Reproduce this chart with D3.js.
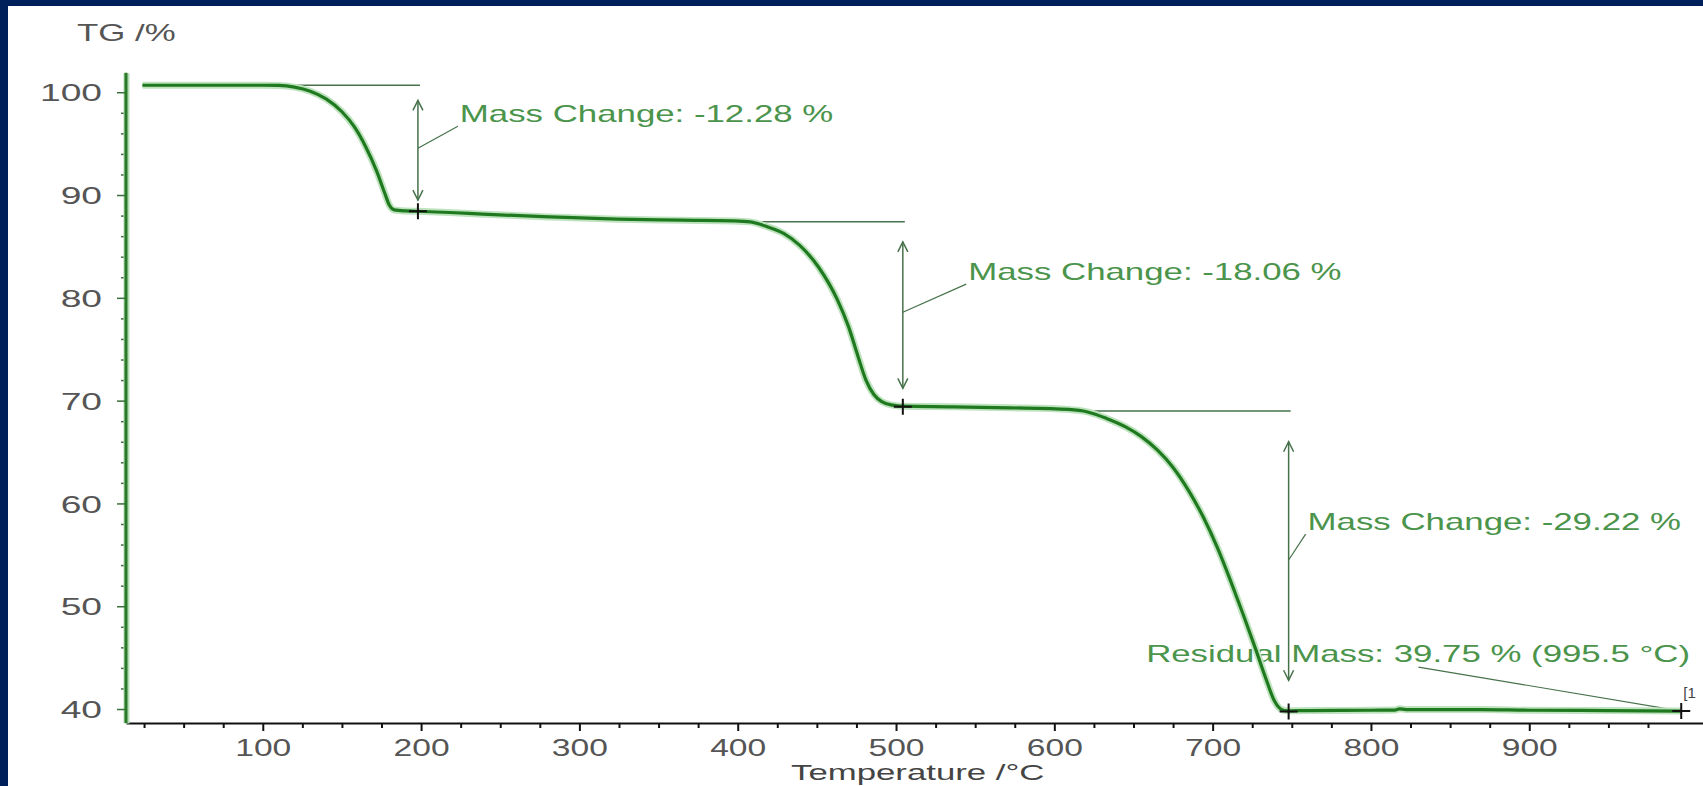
<!DOCTYPE html>
<html>
<head>
<meta charset="utf-8">
<title>TG curve</title>
<script src="https://cdn.jsdelivr.net/npm/d3@7"></script>
<style>
    html, body { margin: 0; padding: 0; background: #fff; }
    svg { display: block; }
    text { font-family: "Liberation Sans", Arial, sans-serif; }
</style>
</head>
<body>
<svg id="chart"></svg>
<script>
// TG curve: temperature in °C, mass in %
var temperature = [24, 60, 100, 110, 120, 130, 140, 150, 158, 165, 172, 177, 180, 183, 190, 197, 218,
    239, 281, 324, 365, 397, 408, 419, 429, 439, 451, 463, 470, 476, 481, 486, 491, 498, 504, 536, 572,
    609, 621, 633, 645, 655, 665, 675, 685, 694, 703, 712, 720, 727, 734, 739, 743, 747, 760, 800, 815, 818, 822,
    850, 870, 900, 950, 996];
var mass = [100.68, 100.68, 100.68, 100.66, 100.5, 100.1, 99.35, 98.1, 96.6, 94.7, 92.3, 90.2, 89.0, 88.55, 88.45, 88.42, 88.3,
    88.14, 87.87, 87.65, 87.55, 87.48, 87.39, 86.9, 86.26, 85.12, 83.0, 79.8, 77.2, 74.3, 72.0, 70.6, 69.9, 69.56, 69.46, 69.4, 69.3,
    69.14, 68.9, 68.27, 67.45, 66.5, 65.2, 63.5, 61.2, 58.7, 55.7, 52.2, 48.9, 45.9, 42.8, 40.8, 40.0, 39.82, 39.85, 39.88, 39.9, 40.02, 39.95,
    39.95, 39.95, 39.88, 39.85, 39.8];

var xTicks = [100, 200, 300, 400, 500, 600, 700, 800, 900];
var yTicks = [40, 50, 60, 70, 80, 90, 100];

// the three mass change steps
var stepLabels = ["Mass Change: -12.28 %", "Mass Change: -18.06 %", "Mass Change: -29.22 %"];
var stepTemp = [198, 504.3, 748];
var stepLineFrom = [24, 360, 615];
var stepTop = [100.68, 87.39, 68.98];
var stepBottom = [88.42, 69.4, 39.76];
var arrowTop = [99.2, 85.45, 66.0];
var arrowBottom = [89.5, 71.2, 42.8];
var leaderFrom = [94.55, 78.6, 54.5];
var labelTemp = [224.5, 545.6, 760];
var labelMass = [97.08, 81.72, 57.4];

var residualLabel = "Residual Mass: 39.75 % (995.5 °C)";
var residualTemp = 658, residualMass = 44.6;
var residualLeader = [[830, 44.08], [996, 39.8]];
var endPoint = [996, 39.8];

var W = 1703, H = 786;

var svg = d3.select("#chart").attr("width", W).attr("height", H);
svg.append("rect").attr("width", W).attr("height", H).attr("fill", "#fff");
svg.append("rect").attr("width", W).attr("height", 6).attr("fill", "#00205b");
svg.append("rect").attr("width", 8).attr("height", H).attr("fill", "#00205b");

var x = d3.scaleLinear().domain([13.6, 1010]).range([126, 1703.4]);
var y = d3.scaleLinear().domain([38.64, 101.9]).range([723, 72.7]);

// the original picture is stretched sideways, so stretch the text too
function stretch(k) {
    return function (sel) {
        sel.each(function () {
            var w = this.getComputedTextLength();
            d3.select(this).attr("textLength", w * k).attr("lengthAdjust", "spacingAndGlyphs");
        });
    };
}

// ---- axes ----
var xAxis = svg.append("g").attr("transform", "translate(0," + y.range()[0] + ")")
    .call(d3.axisBottom(x).tickValues(xTicks).tickSize(8).tickSizeOuter(0).tickPadding(8));
xAxis.select(".domain").attr("stroke", "#111").attr("stroke-width", 2.2);
xAxis.selectAll(".tick line").attr("stroke", "#111").attr("stroke-width", 2);
xAxis.selectAll(".tick text").attr("fill", "#555").attr("font-size", 24)
    .attr("font-family", "Liberation Sans, Arial, sans-serif").attr("dy", "0.72em").call(stretch(1.4));

var xMinor = svg.append("g").attr("transform", "translate(0," + y.range()[0] + ")")
    .call(d3.axisBottom(x).tickValues(d3.range(25, 1000, 25).filter(function (d) { return d % 100 !== 0; }))
        .tickSize(5).tickFormat(""));
xMinor.select(".domain").remove();
xMinor.selectAll(".tick line").attr("stroke", "#111").attr("stroke-width", 2);

var yMinor = svg.append("g").attr("transform", "translate(" + x.range()[0] + ",0)")
    .call(d3.axisLeft(y).tickValues(d3.range(40, 101, 2).filter(function (d) { return d % 10 !== 0; }))
        .tickSize(5).tickFormat(""));
yMinor.select(".domain").remove();
yMinor.selectAll(".tick line").attr("stroke", "#3b6e3b").attr("stroke-width", 1.5);

var yAxis = svg.append("g").attr("transform", "translate(" + x.range()[0] + ",0)")
    .call(d3.axisLeft(y).tickValues(yTicks).tickSize(9).tickSizeOuter(0).tickPadding(16));
yAxis.select(".domain").attr("stroke", "#b5dcb5").attr("stroke-width", 6);
yAxis.append("line").attr("y1", y.range()[0]).attr("y2", y.range()[1])
    .attr("stroke", "#2a7a2a").attr("stroke-width", 3);
yAxis.selectAll(".tick line").attr("stroke", "#3b6e3b").attr("stroke-width", 1.5);
yAxis.selectAll(".tick text").attr("fill", "#555").attr("font-size", 24)
    .attr("font-family", "Liberation Sans, Arial, sans-serif").attr("dy", "0.36em")
    .each(function () {
        var w = this.getComputedTextLength() * 1.55;
        d3.select(this).attr("text-anchor", "start").attr("x", -24 - w)
            .attr("textLength", w).attr("lengthAdjust", "spacingAndGlyphs");
    });

svg.append("text").attr("x", 77).attr("y", 41).attr("font-size", 24).attr("fill", "#555")
    .text("TG /%").call(stretch(1.45));
svg.append("text").attr("x", 791).attr("y", 780).attr("font-size", 22).attr("fill", "#444")
    .text("Temperature /°C").call(stretch(1.58));

// ---- curve ----
var points = temperature.map(function (t, i) { return [t, mass[i]]; });
var line = d3.line().x(function (d) { return x(d[0]); }).y(function (d) { return y(d[1]); })
    .curve(d3.curveMonotoneX);

// ---- annotations ----
var ann = svg.append("g");
var thin = "#46724a";
var labelColor = "#4b944b";

function arrowHead(px, py, dir) {
    ann.append("path")
        .attr("d", "M" + (px - 5) + "," + (py - dir * 10) + "L" + px + "," + py + "L" + (px + 5) + "," + (py - dir * 10))
        .attr("fill", "none").attr("stroke", thin).attr("stroke-width", 1.5);
}

function cross(t, m) {
    var cx = x(t), cy = y(m);
    svg.append("path")
        .attr("d", "M" + (cx - 9) + "," + cy + "H" + (cx + 9) + "M" + cx + "," + (cy - 8) + "V" + (cy + 8))
        .attr("stroke", "#111").attr("stroke-width", 2);
}

stepLabels.forEach(function (label, i) {
    var ax = x(stepTemp[i]);
    ann.append("line")
        .attr("x1", x(stepLineFrom[i])).attr("x2", ax + 2)
        .attr("y1", y(stepTop[i])).attr("y2", y(stepTop[i]))
        .attr("stroke", thin).attr("stroke-width", 1.5);
    ann.append("line")
        .attr("x1", ax).attr("x2", ax)
        .attr("y1", y(arrowTop[i])).attr("y2", y(arrowBottom[i]))
        .attr("stroke", thin).attr("stroke-width", 1.5);
    arrowHead(ax, y(arrowTop[i]), -1);
    arrowHead(ax, y(arrowBottom[i]), 1);
    var tx = x(labelTemp[i]), ty = y(labelMass[i]);
    ann.append("line")
        .attr("x1", ax).attr("y1", y(leaderFrom[i]))
        .attr("x2", tx - 2).attr("y2", ty + 4)
        .attr("stroke", thin).attr("stroke-width", 1.2);
    ann.append("text").attr("x", tx).attr("y", ty)
        .attr("font-size", 24).attr("fill", labelColor)
        .text(label).call(stretch(1.45));
});

ann.append("text").attr("x", x(residualTemp)).attr("y", y(residualMass))
    .attr("font-size", 24).attr("fill", labelColor)
    .text(residualLabel).call(stretch(1.45));
ann.append("line")
    .attr("x1", x(residualLeader[0][0])).attr("y1", y(residualLeader[0][1]))
    .attr("x2", x(residualLeader[1][0])).attr("y2", y(residualLeader[1][1]))
    .attr("stroke", thin).attr("stroke-width", 1.2);

svg.append("path").datum(points).attr("d", line)
    .attr("fill", "none").attr("stroke", "#bfe3bf").attr("stroke-width", 7);
svg.append("path").datum(points).attr("d", line)
    .attr("fill", "none").attr("stroke", "#1f7a1f").attr("stroke-width", 3.2);

stepTemp.forEach(function (t, i) { cross(t, stepBottom[i]); });
cross(endPoint[0], endPoint[1]);

svg.append("text").attr("x", x(endPoint[0]) + 2).attr("y", y(endPoint[1]) - 13)
    .attr("font-size", 15).attr("fill", "#444").text("[1");
</script>
</body>
</html>
